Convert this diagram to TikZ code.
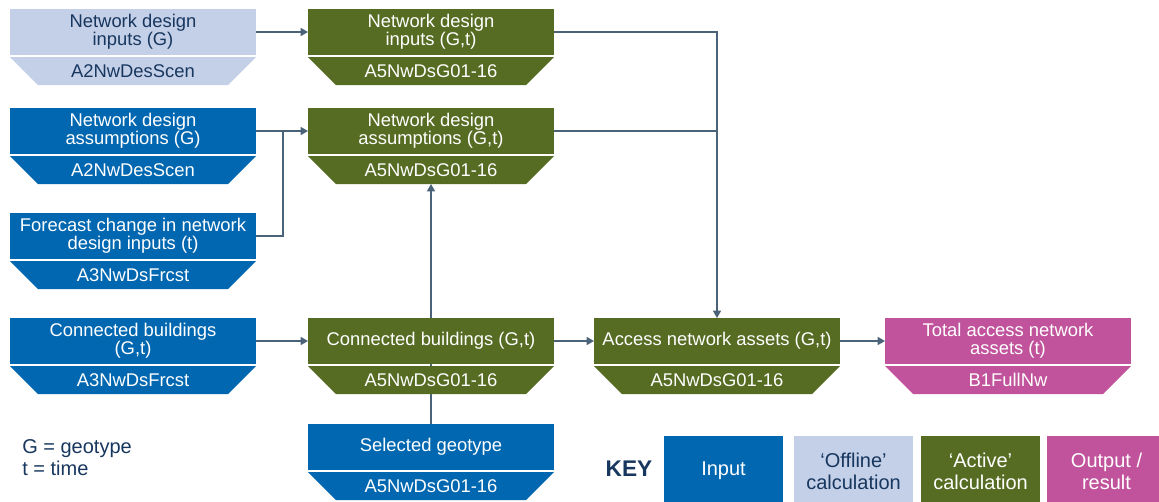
\documentclass[tikz,border=0pt]{standalone}
\usepackage{fontspec}
\setmainfont{Liberation Sans}
\usetikzlibrary{arrows.meta,backgrounds}

\definecolor{inputblue}{HTML}{0067B0}
\definecolor{offline}{HTML}{C4CFE8}
\definecolor{active}{HTML}{566C23}
\definecolor{output}{HTML}{C0539C}
\definecolor{navy}{HTML}{17375E}
\definecolor{linkgrey}{HTML}{4A6379}

\newcommand\boxfont{\fontsize{13.8}{13.6}\selectfont}
\newcommand\keyfont{\fontsize{15}{16.5}\selectfont}

\tikzset{
  blockbox/.style={rectangle, inner sep=0pt, outer sep=0pt,
    minimum width=184.5pt, minimum height=34.5pt, align=center, font=\boxfont},
  codelabel/.style={inner sep=0pt, font=\boxfont},
  link/.style={draw=linkgrey, line width=1.1pt},
  arrowlink/.style={link, -{Triangle[length=5.5pt,width=6pt]}},
  keybox/.style={rectangle, inner sep=0pt, outer sep=0pt, anchor=north west,
    minimum width=89.25pt, minimum height=52.5pt, align=center, font=\keyfont},
}

% A module block: title box with the sheet name on a trapezoid tab below it
% #1 name, #2 left, #3 top, #4 fill, #5 text colour, #6 title, #7 sheet
\newcommand\modblock[7]{%
  \node[blockbox, fill=#4, text=#5, anchor=north west] (#1) at (#2,#3) {#6};
  \fill[#4] ([yshift=-1.5pt]#1.south west) -- ([yshift=-1.5pt]#1.south east)
    -- ([shift={(-21pt,-22.5pt)}]#1.south east)
    -- ([shift={(21pt,-22.5pt)}]#1.south west) -- cycle;
  \node[codelabel, text=#5] (#1-code) at ([yshift=-12pt]#1.south) {#7};
  \coordinate (#1-bot) at ([yshift=-22.5pt]#1.south);
}

\begin{document}
\begin{tikzpicture}[x=0.75pt, y=-0.75pt]
\useasboundingbox (0,0) rectangle (1159,501);
\clip (0,0) rectangle (1159,501);

% column 1: inputs
\modblock{nin}{10}{9}{offline}{navy}{Network design\\inputs (G)}{A2NwDesScen}
\modblock{nas}{10}{108}{inputblue}{white}{Network design\\assumptions (G)}{A2NwDesScen}
\modblock{fc}{10}{213}{inputblue}{white}{Forecast change in network\\design inputs (t)}{A3NwDsFrcst}
\modblock{cbi}{10}{318}{inputblue}{white}{Connected buildings\\(G,t)}{A3NwDsFrcst}

% column 2: active calculations
\modblock{ain}{308}{9}{active}{white}{Network design\\inputs (G,t)}{A5NwDsG01-16}
\modblock{aas}{308}{108}{active}{white}{Network design\\assumptions (G,t)}{A5NwDsG01-16}
\modblock{cba}{308}{318}{active}{white}{Connected buildings (G,t)}{A5NwDsG01-16}
\modblock{sel}{308}{424}{inputblue}{white}{Selected geotype}{A5NwDsG01-16}

% columns 3 and 4
\modblock{acc}{594}{318}{active}{white}{Access network assets (G,t)}{A5NwDsG01-16}
\modblock{tot}{885}{318}{output}{white}{Total access network\\assets (t)}{B1FullNw}

\coordinate (jn) at (283,131);

% connectors
\begin{pgfonlayer}{background}
  \draw[arrowlink] (nin.east) -- (ain.west);
  \draw[arrowlink] (nas.east) -- (aas.west);
  \draw[link] (fc.east) -| (jn);
  \draw[arrowlink] (ain.east) -| (acc.north);
  \draw[link] (aas.east) -- (aas.east -| acc.north);
  \draw[arrowlink] (sel.north) -- (aas-bot);
  \draw[arrowlink] (cbi.east) -- (cba.west);
  \draw[arrowlink] (cba.east) -- (acc.west);
  \draw[arrowlink] (acc.east) -- (tot.west);
\end{pgfonlayer}

% notation
\node[anchor=west, align=left, inner sep=0pt, text=navy, font=\keyfont] (notation) at (22,458) {G = geotype\\t = time};

% key
\node[text=navy, font=\fontsize{17}{17}\selectfont\bfseries, inner sep=0pt] (keytitle) at (629,469) {KEY};
\node[keybox, fill=inputblue, text=white] (kin) at (664,436) {Input};
\node[keybox, fill=offline, text=navy] (koff) at (794,436) {‘Offline’\\calculation};
\node[keybox, fill=active, text=white] (kact) at (921,436) {‘Active’\\calculation};
\node[keybox, fill=output, text=white] (kout) at (1047,436) {Output /\\result};
\end{tikzpicture}
\end{document}
